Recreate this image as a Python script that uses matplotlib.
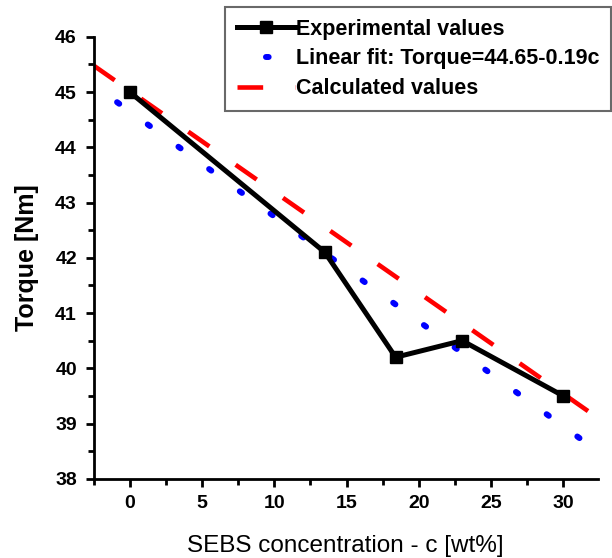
import numpy as np
import matplotlib.pyplot as plt
from matplotlib.ticker import MultipleLocator

plt.rcParams["font.family"] = ["Liberation Sans", "DejaVu Sans"]

# experimental torque values
conc = [0, 13.5, 18.4, 23, 30]
torque = [45.0, 42.1, 40.2, 40.5, 39.5]

# linear fit Torque = 44.65 - 0.19c
fit_a = 44.65
fit_b = -0.19

# calculated values (straight line)
calc_x = [-2.5, 32.4]
calc_y = [45.48, 39.1]

fig = plt.figure(figsize=(6.12, 5.58), dpi=100)
ax = fig.add_axes([0.153, 0.142, 0.824, 0.792])

xf = np.array([-2.5, 32.4])
ax.plot(xf, fit_a + fit_b * xf, color="blue", lw=4.3, ls=(1.5, (0.45, 5.9)),
        dash_capstyle="round", label="Linear fit: Torque=44.65-0.19c", zorder=2)
ax.plot(calc_x, calc_y, color="red", lw=3.3, ls=(0, (5.6, 7)),
        label="Calculated values", zorder=2)
ax.plot(conc, torque, color="black", lw=3.6, marker="s", ms=8,
        label="Experimental values", zorder=3)

ax.set_xlim(-2.5, 32.4)
ax.set_ylim(38, 46)
ax.xaxis.set_major_locator(MultipleLocator(5))
ax.xaxis.set_minor_locator(MultipleLocator(2.5))
ax.yaxis.set_major_locator(MultipleLocator(1))
ax.yaxis.set_minor_locator(MultipleLocator(0.5))
ax.spines["top"].set_visible(False)
ax.spines["right"].set_visible(False)
ax.spines["left"].set_linewidth(2)
ax.spines["bottom"].set_linewidth(2)
ax.tick_params(which="major", length=6, width=2, labelsize=14, pad=6)
ax.tick_params(which="minor", length=4, width=2)
for lab in ax.get_xticklabels() + ax.get_yticklabels():
    lab.set_fontweight("bold")

ax.set_xlabel("SEBS concentration - c [wt%]", fontsize=17.5, labelpad=16)
ax.set_ylabel("Torque [Nm]", fontsize=18, fontweight="bold", labelpad=12)

h, l = ax.get_legend_handles_labels()
order = [2, 0, 1]
leg = ax.legend([h[i] for i in order], [l[i] for i in order],
                loc="upper left", bbox_to_anchor=(225 / 612, 1 - 7 / 558),
                bbox_transform=fig.transFigure,
                frameon=True, fancybox=False, edgecolor="#444444",
                prop={"weight": "bold", "size": 15.5},
                handlelength=2.7, handletextpad=0.05, labelspacing=0.4,
                borderpad=0.55, borderaxespad=0)
leg.get_frame().set_linewidth(1.5)

fig.savefig("out.png", dpi=100)
